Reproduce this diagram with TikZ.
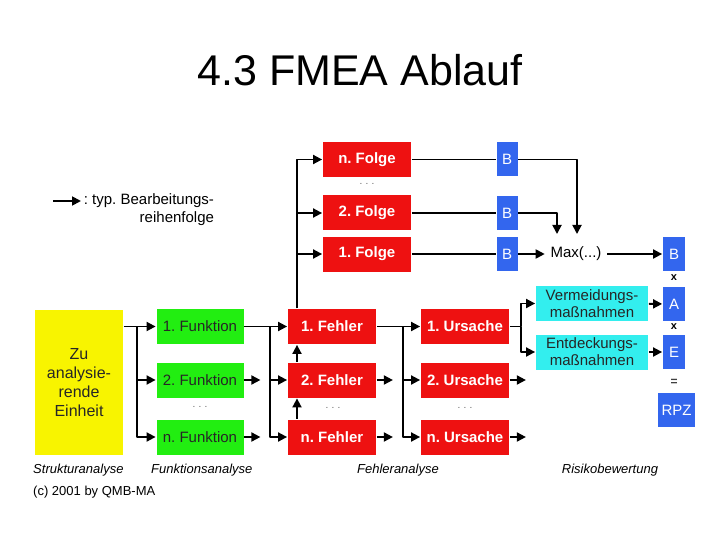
\documentclass[tikz,border=0pt]{standalone}
\usepackage{fontspec}
\setmainfont{Liberation Sans}
\usetikzlibrary{arrows.meta}
\frenchspacing
\definecolor{fmeared}{HTML}{EE1111}
\definecolor{fmeagreen}{HTML}{22EE11}
\definecolor{fmeayellow}{HTML}{F8F400}
\definecolor{fmeacyan}{HTML}{33EEEE}
\definecolor{fmeablue}{HTML}{3366EE}
\tikzset{
  box/.style={minimum height=35pt, inner sep=0pt, align=center, font=\fontsize{15}{18}\selectfont},
  fkt/.style={box, fill=fmeagreen, minimum width=87pt, text=black!85},
  err/.style={box, fill=fmeared, minimum width=88pt, text=white, font=\fontsize{15}{18}\selectfont\bfseries},
  bew/.style={box, fill=fmeablue, minimum width=21pt, minimum height=34pt, text=white},
  mass/.style={box, fill=fmeacyan, minimum width=112pt, text=black!85, font=\fontsize{15}{17}\selectfont},
  dots/.style={font=\fontsize{10}{10}\selectfont, text=black!60},
  phase/.style={font=\fontsize{13}{15}\selectfont\itshape},
}
\begin{document}
\begin{tikzpicture}[x=1pt, y=-1pt, line width=1.8pt, line join=round, >={Triangle[length=9pt,width=9pt]}]
  \useasboundingbox (0,0) rectangle (720,540);
  \node (title) at (360,70) {\fontsize{43}{50}\selectfont 4.3 FMEA Ablauf};
  % legend
  \path (53,201) coordinate (l1) (81,201) coordinate (l2);
  \draw[->] (l1) -- (l2);
  \node[anchor=west, align=right, font=\fontsize{15}{18}\selectfont, inner sep=2pt] (legend) at (l2 |- 0,210) {: typ. Bearbeitungs-\\reihenfolge};
  % columns of the branching lines
  \path (137,0) coordinate (j1) (270,0) coordinate (j2) (297,0) coordinate (k) (403,0) coordinate (j3) (521,0) coordinate (j4);
  \node[box, fill=fmeayellow, minimum width=88pt, minimum height=145pt, font=\fontsize{16}{19}\selectfont, text=black!85] (einheit) at (79,382.5) {Zu\\analysie-\\rende\\Einheit};
  \foreach \n/\y in {1/326.5,2/380,n/437} {
    \node[fkt] (f\n) at (200,\y) {\n. Funktion};
    \node[err] (e\n) at (332,\y) {\n. Fehler};
    \node[err] (u\n) at (465,\y) {\n. Ursache};
  }
  \foreach \n/\y in {n/159.5,2/213,1/254} {
    \node[err] (g\n) at (367,\y) {\n. Folge};
    \node[bew] (b\n) at (507,\y) {B};
    \draw (g\n) -- (b\n);
  }
  \foreach \x/\y in {367/184,200/407,333/408,465/408} \node[dots] at (\x,\y) {.\,\,.\,\,.};
  \node[font=\fontsize{15}{18}\selectfont, inner sep=5pt] (max) at (576,254) {Max(...)};
  \node[bew, minimum width=22pt] (bB) at (674,254) {B};
  \node[bew, minimum width=22pt] (bA) at (674,304) {A};
  \node[bew, minimum width=22pt] (bE) at (674,352) {E};
  \node[bew, minimum width=37pt] (rpz) at (676.5,410) {RPZ};
  \node[font=\fontsize{11}{11}\selectfont\bfseries, inner sep=0pt] (mal1) at (674,278) {x};
  \node[font=\fontsize{11}{11}\selectfont\bfseries, inner sep=0pt] (mal2) at (674,327) {x};
  \node[font=\fontsize{12}{12}\selectfont\bfseries, inner sep=0pt, text=black!75] (gleich) at (674,382) {=};
  \node[mass] (v1) at (592,303.5) {Vermeidungs-\\maßnahmen};
  \node[mass] (v2) at (592,352) {Entdeckungs-\\maßnahmen};
  % phases
  \node[phase, anchor=west] (s1) at (29,470) {Strukturanalyse};
  \node[phase, anchor=west] (s2) at (147,470) {Funktionsanalyse};
  \node[phase] (s3) at (398,470) {Fehleranalyse};
  \node[phase] (s4) at (610,470) {Risikobewertung};
  \node[anchor=west, font=\fontsize{13}{15}\selectfont] (copy) at (29,492) {(c) 2001 by QMB-MA};
  % connectors
  \draw[->] (einheit.east |- f1) -- (f1.west);
  \draw[->] (f1) -- (e1);
  \draw[->] (e1) -- (u1);
  \foreach \j/\a in {j1/f,j2/e,j3/u} {
    \draw[->] (\j |- \a1) |- (\a2.west);
    \draw[->] (\j |- \a1) |- (\a n.west);
  }
  \foreach \a in {f,e,u} \foreach \n in {2,n} \draw[->] (\a\n.east) -- ++(16,0);
  \draw[->] (e2.north -| k) -- (e1.south -| k);
  \draw[->] (en.north -| k) -- (e2.south -| k);
  \foreach \n in {1,2,n} \draw[->] (e1.north -| k) |- (g\n.west);
  \path (557,234) coordinate (m2) (577,234) coordinate (mn);
  \draw[->] (b1) -- (max);
  \draw[->] (b2.east) -| (m2);
  \draw[->] (bn.east) -| (mn);
  \draw[->] (max) -- (bB);
  \draw[->] (u1.east) -- (j4 |- u1) |- (v1.west);
  \draw[->] (j4 |- u1) |- (v2.west);
  \draw[->] (v1) -- (bA);
  \draw[->] (v2) -- (bE);
\end{tikzpicture}
\end{document}
